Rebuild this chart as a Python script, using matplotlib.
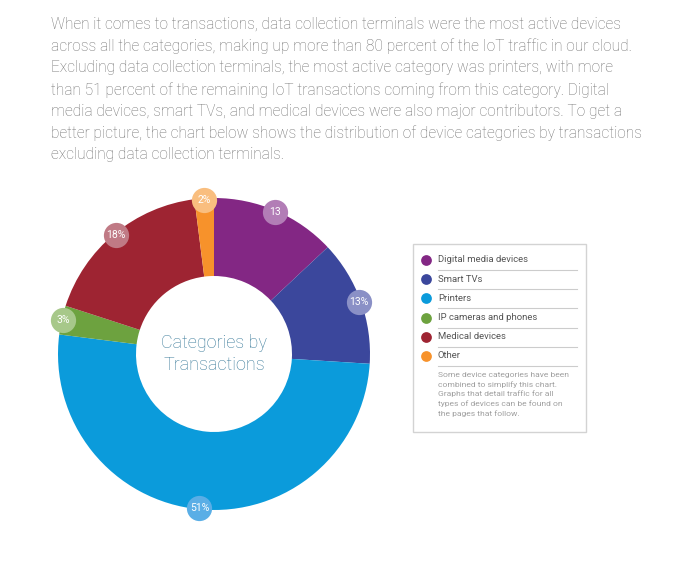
import matplotlib.pyplot as plt
import numpy as np

plt.rcParams['font.family'] = ['Roboto', 'DejaVu Sans']

# data
categories = ['Digital media devices', 'Smart TVs', 'Printers',
              'IP cameras and phones', 'Medical devices', 'Other']
shares = [13, 13, 51, 3, 18, 2]
point_labels = ['13', '13%', '51%', '3%', '18%', '2%']
colors = ['#832784', '#3b479c', '#0b9bdb', '#6da23f', '#9e2432', '#f7922b']
tints = ['#b27db6', '#8a90c6', '#5aaee6', '#a7c88a', '#c07a85', '#f9be7f']

intro = ("When it comes to transactions, data collection terminals were the most active devices\n"
         "across all the categories, making up more than 80 percent of the IoT traffic in our cloud.\n"
         "Excluding data collection terminals, the most active category was printers, with more\n"
         "than 51 percent of the remaining IoT transactions coming from this category. Digital\n"
         "media devices, smart TVs, and medical devices were also major contributors. To get a\n"
         "better picture, the chart below shows the distribution of device categories by transactions\n"
         "excluding data collection terminals.")
note = ("Some device categories have been\n"
        "combined to simplify this chart.\n"
        "Graphs that detail traffic for all\n"
        "types of devices can be found on\n"
        "the pages that follow.")

W, H = 680, 567
fig = plt.figure(figsize=(W / 100, H / 100), dpi=100)

# donut, centre at (214, 354) px, radius 156 px
cx, cy, R = 214, 354, 156
half = R * 1.1
ax = fig.add_axes([(cx - half) / W, (H - cy - half) / H, 2 * half / W, 2 * half / H])
wedges, _ = ax.pie(shares, colors=colors, startangle=90, counterclock=False,
                   radius=1, wedgeprops=dict(width=0.5, linewidth=0))
ax.set_xlim(-1.1, 1.1)
ax.set_ylim(-1.1, 1.1)
ax.set_aspect('equal')
ax.axis('off')

for w, lab, tint in zip(wedges, point_labels, tints):
    ang = np.deg2rad((w.theta1 + w.theta2) / 2)
    x, y = 0.99 * np.cos(ang), 0.99 * np.sin(ang)
    ax.scatter([x], [y], s=330, color=tint, zorder=3, linewidths=0)
    ax.text(x, y, lab, color='white', fontsize=7.5, ha='center', va='center', zorder=4)

ax.text(0, 0, 'Categories by\nTransactions', ha='center', va='center',
        fontsize=13, color='#3a7b9a', fontweight='light', linespacing=1.25)

# overlay in pixel coordinates for text and legend
ov = fig.add_axes([0, 0, 1, 1])
ov.set_xlim(0, W)
ov.set_ylim(H, 0)
ov.axis('off')

ov.text(51, 17, intro, fontsize=11.2, color='#717171', fontweight='light',
        va='top', ha='left', linespacing=1.51)

# legend box
ov.add_patch(plt.Rectangle((413, 244), 173, 188, fill=False,
                           edgecolor='#d3d3d3', linewidth=1))
for i, (cat, col) in enumerate(zip(categories, colors)):
    yy = 260 + i * 19.2
    ov.scatter([426], [yy], s=60, color=col, linewidths=0)
    ov.text(438, yy, cat, fontsize=6.8, color='#555555', va='center', ha='left')
    ov.plot([438, 577], [yy + 10, yy + 10], color='#cccccc', linewidth=0.8)

ov.text(438, 372, note, fontsize=6.1, color='#a0a0a0', va='top', ha='left',
        linespacing=1.5)

fig.savefig('out.png', dpi=100, facecolor='white')
